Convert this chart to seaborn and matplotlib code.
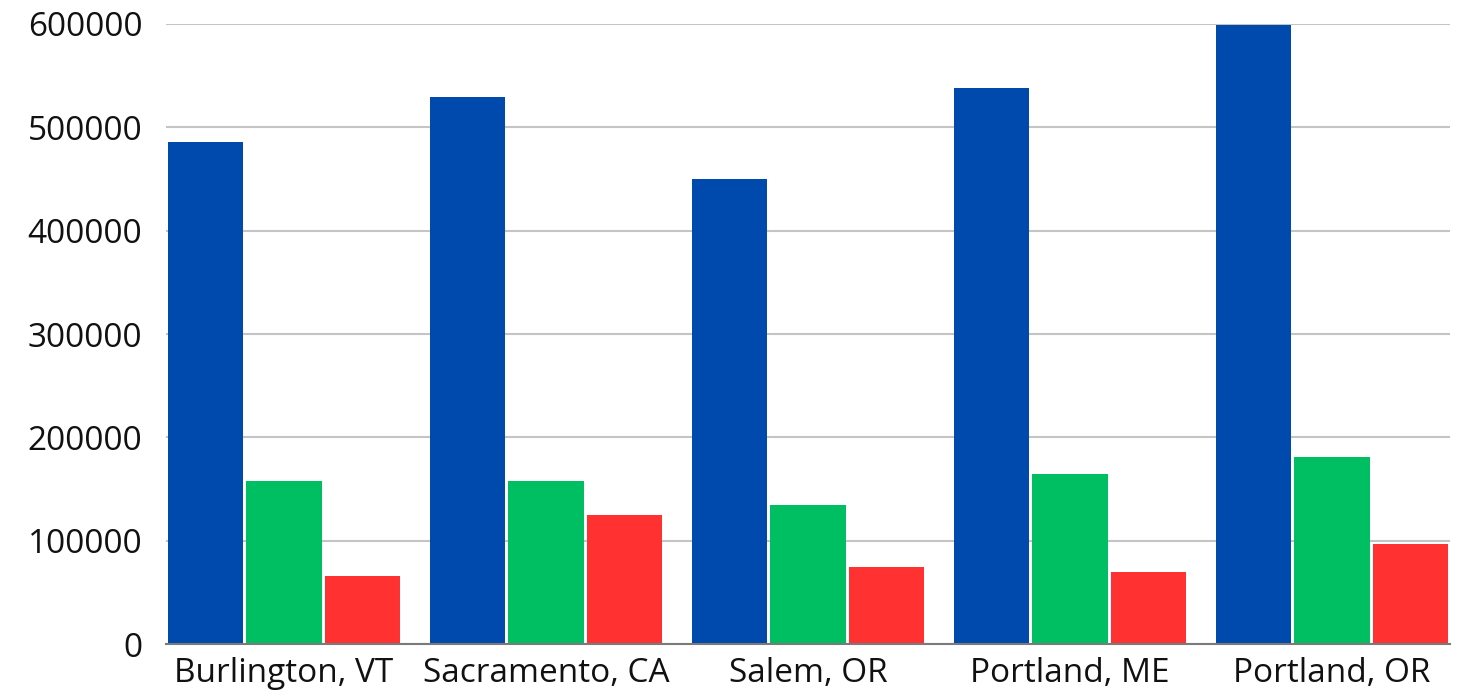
import matplotlib
matplotlib.use("Agg")
import matplotlib.pyplot as plt
import seaborn as sns
import pandas as pd

cities = ["Burlington, VT", "Sacramento, CA", "Salem, OR", "Portland, ME", "Portland, OR"]
series_names = ["Series 1", "Series 2", "Series 3"]
series1 = [486000, 529000, 450000, 538000, 599000]
series2 = [158000, 158000, 135000, 165000, 181000]
series3 = [66000, 125000, 75000, 70000, 97000]
colors = ["#004AAD", "#00BF63", "#FF3131"]
yticks = [0, 100000, 200000, 300000, 400000, 500000, 600000]

rows = []
for name, vals in zip(series_names, [series1, series2, series3]):
    for c, v in zip(cities, vals):
        rows.append({"city": c, "series": name, "value": v})
df = pd.DataFrame(rows)

sns.set_theme(style="white")
plt.rcParams["font.family"] = ["Open Sans", "DejaVu Sans"]

fig = plt.figure(figsize=(14.59, 6.97), dpi=100)
ax = fig.add_axes([0.1138, 0.076, 0.88, 0.8896])

sns.barplot(data=df, x="city", y="value", hue="series", order=cities,
            hue_order=series_names, palette=colors, width=0.9, gap=0.04,
            linewidth=0, saturation=1, legend=False, ax=ax, zorder=3)

ax.set_xlim(-0.45, 4.45)
ax.set_ylim(0, 600000)
ax.set_yticks(yticks)
ax.set_yticklabels([str(t) for t in yticks])
ax.yaxis.grid(True, color="#c4c4c4", linewidth=1.5, zorder=0)
ax.set_axisbelow(True)
ax.set_xlabel("")
ax.set_ylabel("")
for s in ["top", "right", "left"]:
    ax.spines[s].set_visible(False)
ax.spines["bottom"].set_color("#7a7a7a")
ax.spines["bottom"].set_linewidth(1.5)
ax.spines["bottom"].set_zorder(4)
ax.tick_params(axis="y", length=0, pad=17, labelsize=24, colors="#111111")
ax.tick_params(axis="x", length=0, pad=9, labelsize=24, colors="#111111")

fig.savefig("out.png", dpi=100, facecolor="white")
